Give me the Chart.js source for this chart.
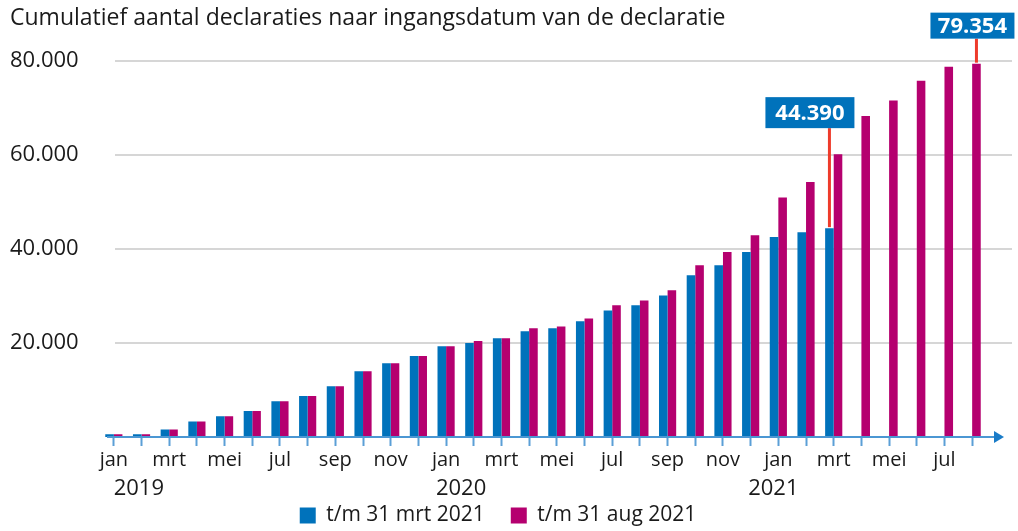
<!DOCTYPE html>
<html lang="nl">
<head>
<meta charset="utf-8">
<title>Cumulatief aantal declaraties</title>
<script src="https://cdn.jsdelivr.net/npm/chart.js@4.4.1/dist/chart.umd.min.js"></script>
<style>
  html, body { margin: 0; padding: 0; background: #fff; }
  #chart { display: block; }
</style>
</head>
<body>
<canvas id="chart" width="1018" height="531"></canvas>
<script>
const chartTitle = 'Cumulatief aantal declaraties naar ingangsdatum van de declaratie';

const months = [
    'jan', 'feb', 'mrt', 'apr', 'mei', 'jun', 'jul', 'aug', 'sep', 'okt', 'nov', 'dec',
    'jan', 'feb', 'mrt', 'apr', 'mei', 'jun', 'jul', 'aug', 'sep', 'okt', 'nov', 'dec',
    'jan', 'feb', 'mrt', 'apr', 'mei', 'jun', 'jul', 'aug'
];
const years = ['2019', '2020', '2021'];
const yearStart = [0, 12, 24];

const seriesNames = ['t/m 31 mrt 2021', 't/m 31 aug 2021'];

// stand t/m 31 maart 2021
const tmMaart = [
    600, 600, 1600, 3300, 4400, 5500, 7600, 8700, 10800, 14000, 15700, 17200,
    19300, 20000, 21000, 22500, 23100, 24600, 26900, 28000, 30100, 34400, 36500, 39300,
    42500, 43500, 44390, null, null, null, null, null
];
// stand t/m 31 augustus 2021
const tmAugustus = [
    600, 600, 1600, 3300, 4400, 5500, 7600, 8700, 10800, 14000, 15700, 17200,
    19300, 20400, 21000, 23100, 23500, 25200, 28000, 29000, 31200, 36500, 39300, 42900,
    50900, 54200, 60100, 68200, 71500, 75700, 78700, 79354
];

const yTicks = [20000, 40000, 60000, 80000];

const FONT = "'Open Sans', sans-serif";
const BLUE = '#0072bb';
const MAGENTA = '#b5006f';
const AXIS = '#4b97d3';

function fmt(v) {
    return String(v).replace(/\B(?=(\d{3})+(?!\d))/g, '.');
}

// horizontal grid lines, a bit wider than the plot area
const gridLines = {
    id: 'gridLines',
    beforeDatasetsDraw(chart) {
        const { ctx, chartArea, scales: { y } } = chart;
        ctx.save();
        ctx.strokeStyle = '#d6d6d6';
        ctx.lineWidth = 2;
        yTicks.forEach(v => {
            const py = Math.round(y.getPixelForValue(v));
            ctx.beginPath();
            ctx.moveTo(chartArea.left + 15, py);
            ctx.lineTo(1012, py);
            ctx.stroke();
        });
        ctx.restore();
    }
};

// x axis line with arrow + year labels
const axisArrow = {
    id: 'axisArrow',
    afterDatasetsDraw(chart) {
        const { ctx, chartArea, scales: { x } } = chart;
        const py = chartArea.bottom;
        ctx.save();
        ctx.strokeStyle = AXIS;
        ctx.lineWidth = 2;
        ctx.beginPath();
        ctx.moveTo(chartArea.left + 7, py);
        ctx.lineTo(996, py);
        ctx.stroke();
        ctx.fillStyle = '#1a7cc8';
        ctx.beginPath();
        ctx.moveTo(994, py - 6);
        ctx.lineTo(1004, py);
        ctx.lineTo(994, py + 6);
        ctx.closePath();
        ctx.fill();

        const nudge = [25, 15, -5];
        ctx.fillStyle = '#1a1a1a';
        ctx.font = '22px ' + FONT;
        ctx.textAlign = 'center';
        ctx.textBaseline = 'middle';
        years.forEach((yr, i) => {
            ctx.fillText(yr, x.getPixelForValue(yearStart[i]) + nudge[i], py + 52);
        });
        ctx.restore();
    }
};

// blue value boxes with red leader line
const callouts = {
    id: 'callouts',
    afterDatasetsDraw(chart) {
        const { ctx } = chart;
        const lastMaart = tmMaart.filter(v => v !== null).length - 1;
        const lastAug = tmAugustus.length - 1;
        const items = [
            { bar: chart.getDatasetMeta(0).data[lastMaart], value: tmMaart[lastMaart], left: 64, right: 25, gap: 100, h: 31 },
            { bar: chart.getDatasetMeta(1).data[lastAug], value: tmAugustus[lastAug], left: 46, right: 38, gap: 25, h: 26 }
        ];
        ctx.save();
        items.forEach(it => {
            const bx = it.bar.x;
            const by = it.bar.y;
            const bottom = by - it.gap;
            ctx.strokeStyle = '#ee3b2b';
            ctx.lineWidth = 3;
            ctx.beginPath();
            ctx.moveTo(bx, bottom);
            ctx.lineTo(bx, by - 1);
            ctx.stroke();
            ctx.fillStyle = BLUE;
            ctx.fillRect(bx - it.left, bottom - it.h, it.left + it.right, it.h);
            ctx.fillStyle = '#fff';
            ctx.font = 'bold 22px ' + FONT;
            ctx.textAlign = 'center';
            ctx.textBaseline = 'middle';
            ctx.fillText(fmt(it.value), bx + (it.right - it.left) / 2, bottom - it.h / 2 + 1);
        });
        ctx.restore();
    }
};

new Chart(document.getElementById('chart'), {
    type: 'bar',
    data: {
        labels: months,
        datasets: [
            {
                label: seriesNames[0],
                data: tmMaart,
                backgroundColor: BLUE,
                borderWidth: 0,
                categoryPercentage: 0.62,
                barPercentage: 1
            },
            {
                label: seriesNames[1],
                data: tmAugustus,
                backgroundColor: MAGENTA,
                borderWidth: 0,
                categoryPercentage: 0.62,
                barPercentage: 1
            }
        ]
    },
    options: {
        responsive: false,
        animation: false,
        layout: { padding: { left: 10, right: 32, top: 0, bottom: -5 } },
        scales: {
            x: {
                offset: true,
                grid: {
                    display: true,
                    drawOnChartArea: false,
                    drawTicks: true,
                    tickLength: 9,
                    tickColor: '#5b9fd6',
                    tickWidth: 2,
                    offset: false
                },
                border: { display: false },
                ticks: {
                    autoSkip: false,
                    maxRotation: 0,
                    padding: 2,
                    color: '#1a1a1a',
                    font: { family: FONT, size: 20 },
                    callback: (v, i) => (i % 2 === 0 ? months[i] : '')
                },
                afterFit: s => { s.height = 42; }
            },
            y: {
                min: 0,
                max: 80000,
                grid: { display: false },
                border: { display: false },
                afterBuildTicks: s => { s.ticks = yTicks.map(v => ({ value: v })); },
                ticks: {
                    crossAlign: 'far',
                    color: '#1a1a1a',
                    font: { family: FONT, size: 22 },
                    callback: v => fmt(v)
                },
                afterFit: s => { s.width = 90; }
            }
        },
        plugins: {
            title: {
                display: true,
                text: chartTitle,
                align: 'start',
                color: '#1a1a1a',
                font: { family: FONT, size: 23, weight: 'normal' },
                padding: { top: 5, bottom: 28 }
            },
            legend: {
                position: 'bottom',
                labels: {
                    boxWidth: 16,
                    boxHeight: 16,
                    padding: 26,
                    color: '#1a1a1a',
                    font: { family: FONT, size: 21 }
                }
            },
            tooltip: { enabled: false }
        }
    },
    plugins: [gridLines, axisArrow, callouts]
});
</script>
</body>
</html>
